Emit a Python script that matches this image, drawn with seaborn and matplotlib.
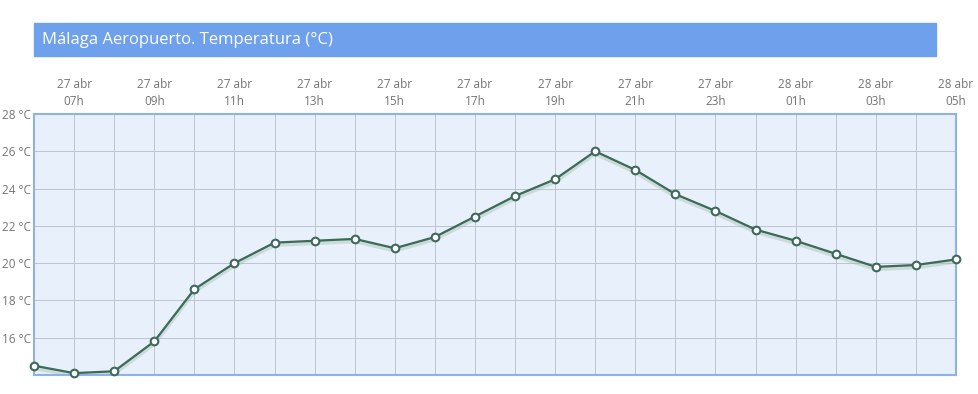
import numpy as np
import pandas as pd
import matplotlib
matplotlib.use('Agg')
import matplotlib.pyplot as plt
import seaborn as sns

# datos (lectura del gráfico)
hours = ['06h', '07h', '08h', '09h', '10h', '11h', '12h', '13h', '14h', '15h', '16h', '17h',
         '18h', '19h', '20h', '21h', '22h', '23h', '00h', '01h', '02h', '03h', '04h', '05h']
days = ['27 abr'] * 18 + ['28 abr'] * 6
temps = [14.5, 14.1, 14.2, 15.8, 18.6, 20.0, 21.1, 21.2, 21.3, 20.8, 21.4, 22.5,
         23.6, 24.5, 26.0, 25.0, 23.7, 22.8, 21.8, 21.2, 20.5, 19.8, 19.9, 20.2]
y_ticks = [16, 18, 20, 22, 24, 26, 28]
title = 'Málaga Aeropuerto. Temperatura (°C)'

df = pd.DataFrame({'idx': np.arange(len(temps)), 'temp': temps})

sns.set_style('white')
plt.rcParams['font.family'] = ['Open Sans', 'DejaVu Sans']

fig = plt.figure(figsize=(9.79, 3.94), dpi=100)
ax = fig.add_axes([34 / 979, 1 - 375 / 394, (956 - 34) / 979, (375 - 114) / 394])
ax.set_facecolor('#e8f0fb')

# sombra de la línea
sns.lineplot(data=df.assign(temp=df['temp'] - 0.12), x='idx', y='temp', ax=ax,
             color='#a9c2b2', linewidth=3, alpha=0.45, zorder=2)
sns.lineplot(data=df, x='idx', y='temp', ax=ax, color='#3d6a58', linewidth=1.6,
             marker='o', markersize=5.5, markerfacecolor='white',
             markeredgecolor='#3d6a58', markeredgewidth=1.5, zorder=3, clip_on=False)

ax.set_xlim(0, len(temps) - 1)
ax.set_ylim(14, 28)
ax.set_xticks(np.arange(len(temps)))
ax.set_yticks(y_ticks)
ax.set_yticklabels([f'{t} °C' for t in y_ticks])
ax.xaxis.tick_top()
ax.set_xticklabels([f'{d}\n{h}' if i % 2 == 1 else '' for i, (d, h) in enumerate(zip(days, hours))],
                   linespacing=1.45)
ax.tick_params(axis='x', length=0, pad=4, labelsize=8.5, colors='#757575')
ax.tick_params(axis='y', length=0, pad=2, labelsize=8.5, colors='#757575')
ax.set_xlabel('')
ax.set_ylabel('')

ax.grid(True, color='#bcc4d2', linewidth=0.7)
ax.set_axisbelow(True)
for s in ax.spines.values():
    s.set_color('#8fb2e6')
    s.set_linewidth(1.5)

# banner del título
fig.patches.append(plt.Rectangle((34 / 979, 1 - 56 / 394), (936 - 34) / 979, 33 / 394,
                                 transform=fig.transFigure, color='#6ea0ec', zorder=0))
fig.text(42 / 979, 1 - 40 / 394, title, color='white', fontsize=12, va='center', ha='left')

fig.savefig('out.png', dpi=100)
